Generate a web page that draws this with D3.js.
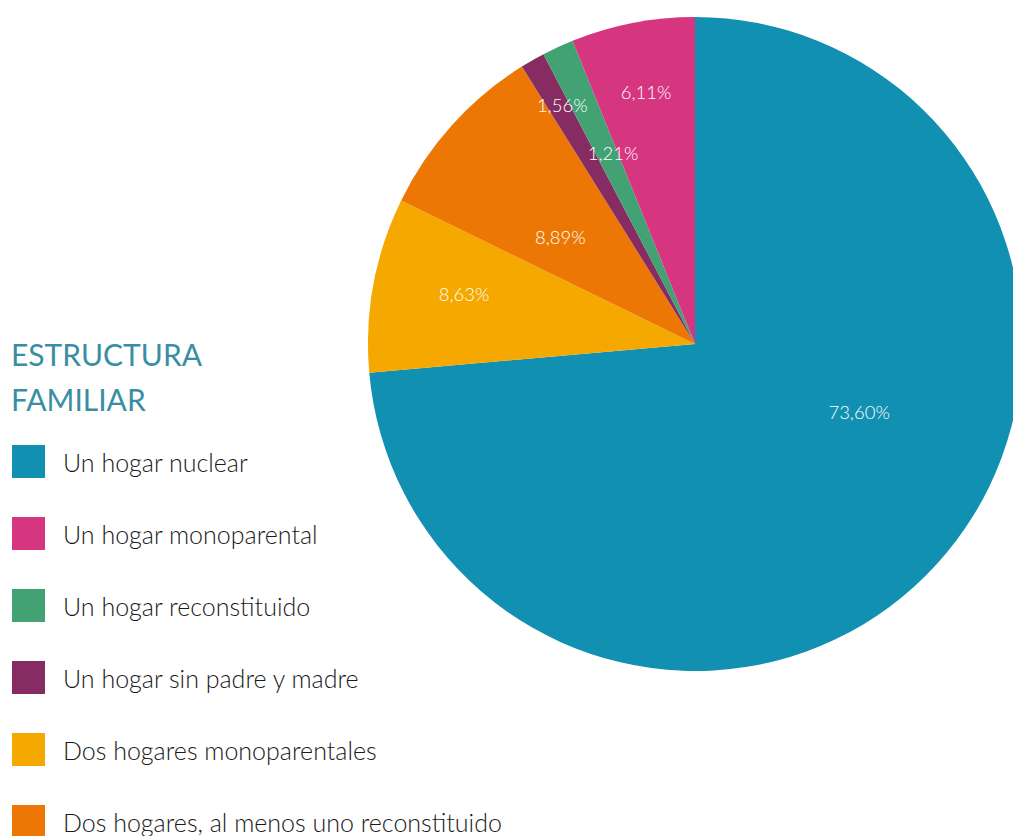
<!DOCTYPE html>
<html>
<head>
<meta charset="utf-8">
<script src="https://cdn.jsdelivr.net/npm/d3@7"></script>
<style>
  html, body { margin: 0; padding: 0; background: #fff; overflow: hidden; }
  #chart { width: 1013px; height: 836px; }
  text { font-family: Lato, "Open Sans", sans-serif; }
</style>
</head>
<body>
<div id="chart"></div>
<script>
// legend order
var categories = [
    "Un hogar nuclear",
    "Un hogar monoparental",
    "Un hogar reconstituido",
    "Un hogar sin padre y madre",
    "Dos hogares monoparentales",
    "Dos hogares, al menos uno reconstituido"
];
var values = [73.60, 6.11, 1.56, 1.21, 8.63, 8.89];
var valueLabels = ["73,60%", "6,11%", "1,56%", "1,21%", "8,63%", "8,89%"];
var colors = ["#1190b1", "#d6357f", "#42a274", "#872b63", "#f4a800", "#ec7704"];

// clockwise order of the slices from 12 o'clock (indexes into the arrays above)
var sliceOrder = [0, 4, 5, 3, 2, 1];

// label placement: radius and angle shift (deg) per category
var labelRadius = [178, 256, 273, 207, 236, 172];
var labelShift  = [-19.7, 0, -4.3, 6.5, 1.5, -3.6];

var width = 1013, height = 836;
var cx = 695, cy = 344, radius = 327;

var svg = d3.select("#chart").append("svg")
    .attr("width", width)
    .attr("height", height);

var pie = d3.pie()
    .value(function(i) { return values[i]; })
    .sort(null);

var arc = d3.arc().innerRadius(0).outerRadius(radius);

var g = svg.append("g")
    .attr("transform", "translate(" + cx + "," + cy + ")");

var slices = pie(sliceOrder);

g.selectAll("path.slice")
    .data(slices)
    .enter()
    .append("path")
    .attr("class", "slice")
    .attr("d", arc)
    .attr("fill", function(d) { return colors[d.data]; });

g.selectAll("text.val")
    .data(slices)
    .enter()
    .append("text")
    .attr("class", "val")
    .attr("transform", function(d) {
        var i = d.data;
        var a = (d.startAngle + d.endAngle) / 2 + labelShift[i] * Math.PI / 180;
        var r = labelRadius[i];
        return "translate(" + (r * Math.sin(a)) + "," + (-r * Math.cos(a)) + ")";
    })
    .attr("text-anchor", "middle")
    .attr("dy", "0.35em")
    .attr("fill", "#fff")
    .style("font-size", "18.5px")
    .style("font-weight", 300)
    .text(function(d) { return valueLabels[d.data]; });

// title
var title = svg.append("g").attr("transform", "translate(11,0)");
title.append("text").attr("y", 366).text("ESTRUCTURA");
title.append("text").attr("y", 411).text("FAMILIAR");
title.selectAll("text")
    .attr("fill", "#3a8ea3")
    .style("font-size", "30px")
    .style("font-weight", 400);

// legend
var legend = svg.append("g").attr("class", "legend");
var rows = legend.selectAll("g.row")
    .data(categories)
    .enter()
    .append("g")
    .attr("class", "row")
    .attr("transform", function(d, i) { return "translate(12," + (445 + i * 72) + ")"; });

rows.append("rect")
    .attr("width", 33)
    .attr("height", 33)
    .attr("fill", function(d, i) { return colors[i]; });

rows.append("text")
    .attr("x", 51)
    .attr("y", 27)
    .attr("fill", "#1a1a1a")
    .style("font-size", "25px")
    .style("font-weight", 300)
    .text(function(d) { return d; });
</script>
</body>
</html>
